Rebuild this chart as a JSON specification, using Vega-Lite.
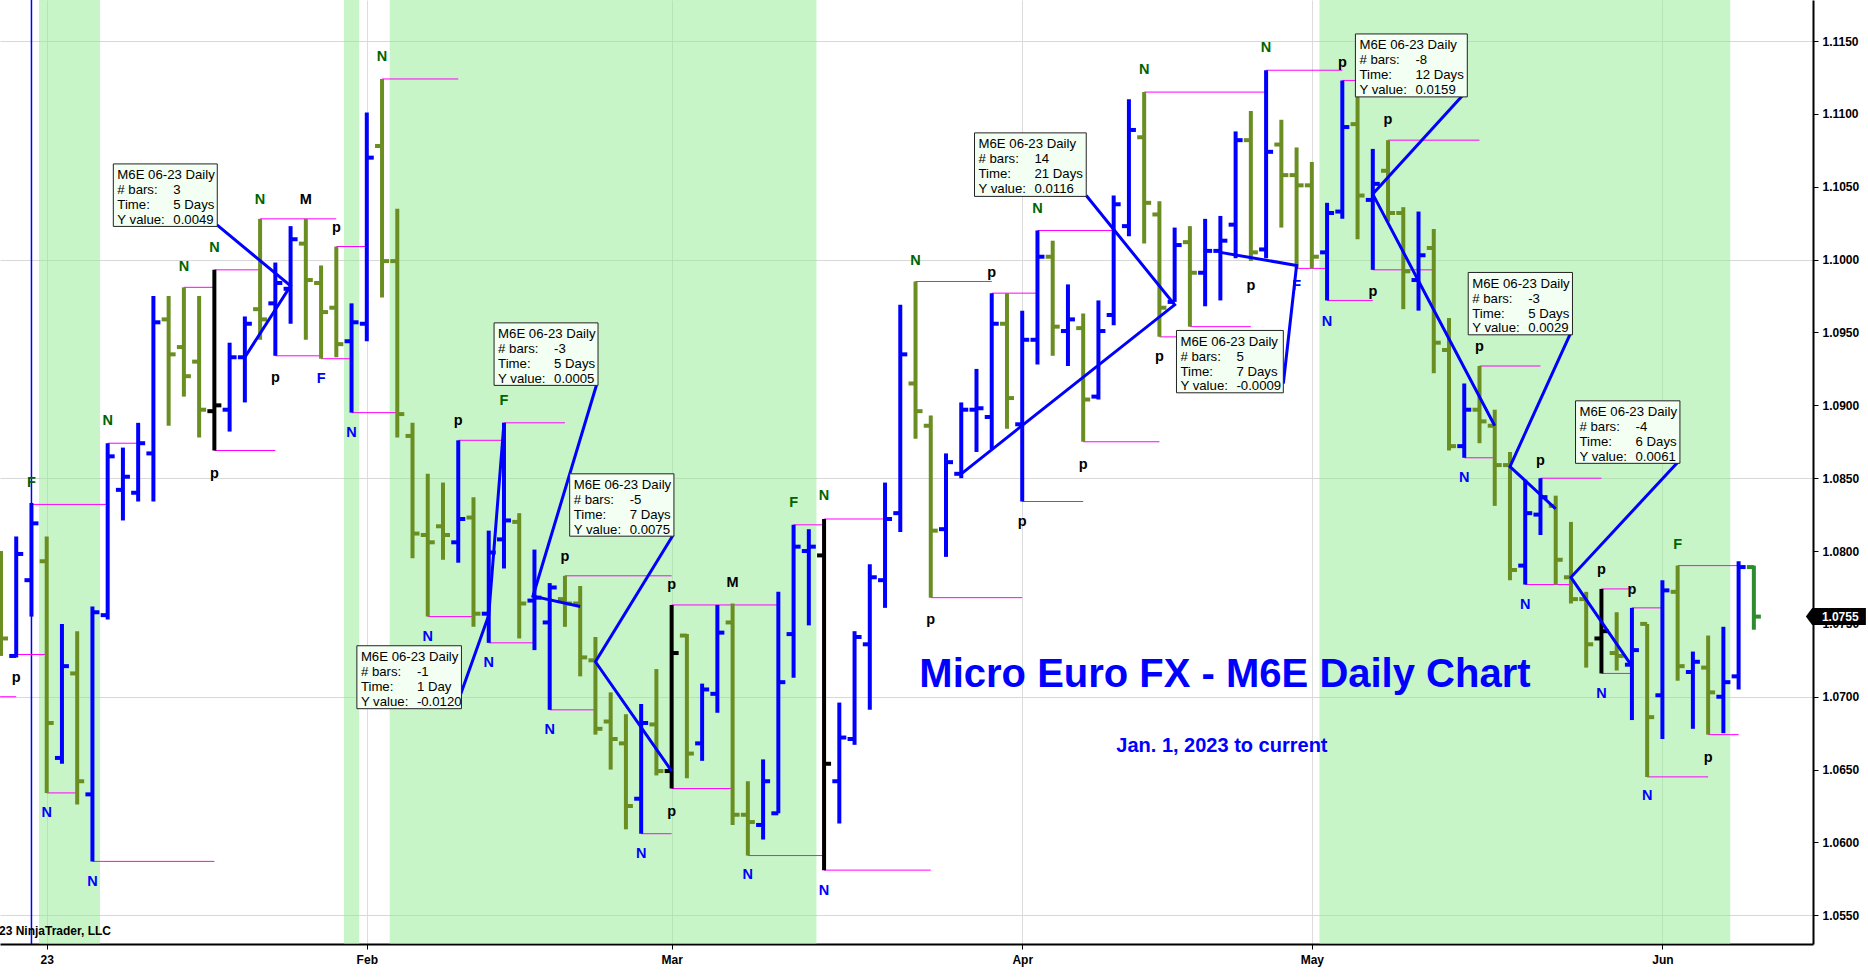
{
  "$schema": "https://vega.github.io/schema/vega-lite/v6.json",
  "width": 1813,
  "height": 944,
  "autosize": {"type": "none"},
  "padding": {"left": 0, "top": 0, "right": 55, "bottom": 33},
  "background": "white",
  "config": {
    "view": {"stroke": null},
    "font": "Liberation Sans",
    "text": {"font": "Liberation Sans"}
  },
  "resolve": {"scale": {"color": "independent"}},
  "datasets": {
    "bars": [
      {"i": -3, "o": 1.0790, "h": 1.0800, "l": 1.0728, "c": 1.0740, "k": "dn"},
      {"i": -2, "o": 1.0728, "h": 1.0810, "l": 1.0727, "c": 1.0798, "k": "up"},
      {"i": -1, "o": 1.0780, "h": 1.0833, "l": 1.0755, "c": 1.0819, "k": "up"},
      {"i": 0, "o": 1.0793, "h": 1.0810, "l": 1.0634, "c": 1.0682, "k": "dn"},
      {"i": 1, "o": 1.0658, "h": 1.0750, "l": 1.0654, "c": 1.0721, "k": "up"},
      {"i": 2, "o": 1.0716, "h": 1.0745, "l": 1.0626, "c": 1.0642, "k": "dn"},
      {"i": 3, "o": 1.0633, "h": 1.0762, "l": 1.0587, "c": 1.0758, "k": "up"},
      {"i": 4, "o": 1.0756, "h": 1.0874, "l": 1.0753, "c": 1.0865, "k": "up"},
      {"i": 5, "o": 1.0842, "h": 1.0871, "l": 1.0821, "c": 1.0851, "k": "up"},
      {"i": 6, "o": 1.0840, "h": 1.0888, "l": 1.0834, "c": 1.0874, "k": "up"},
      {"i": 7, "o": 1.0867, "h": 1.0975, "l": 1.0834, "c": 1.0957, "k": "up"},
      {"i": 8, "o": 1.0959, "h": 1.0975, "l": 1.0886, "c": 1.0935, "k": "dn"},
      {"i": 9, "o": 1.0940, "h": 1.0981, "l": 1.0906, "c": 1.0920, "k": "dn"},
      {"i": 10, "o": 1.0930, "h": 1.0975, "l": 1.0878, "c": 1.0897, "k": "dn"},
      {"i": 11, "o": 1.0896, "h": 1.0993, "l": 1.0869, "c": 1.0900, "k": "bk"},
      {"i": 12, "o": 1.0897, "h": 1.0943, "l": 1.0882, "c": 1.0933, "k": "up"},
      {"i": 13, "o": 1.0933, "h": 1.0961, "l": 1.0902, "c": 1.0956, "k": "up"},
      {"i": 14, "o": 1.0966, "h": 1.1028, "l": 1.0945, "c": 1.0959, "k": "dn"},
      {"i": 15, "o": 1.0970, "h": 1.0998, "l": 1.0934, "c": 1.0984, "k": "up"},
      {"i": 16, "o": 1.0980, "h": 1.1023, "l": 1.0956, "c": 1.1014, "k": "up"},
      {"i": 17, "o": 1.1011, "h": 1.1028, "l": 1.0945, "c": 1.0986, "k": "dn"},
      {"i": 18, "o": 1.0984, "h": 1.0996, "l": 1.0932, "c": 1.0964, "k": "dn"},
      {"i": 19, "o": 1.0967, "h": 1.1009, "l": 1.0933, "c": 1.0942, "k": "dn"},
      {"i": 20, "o": 1.0944, "h": 1.0970, "l": 1.0895, "c": 1.0957, "k": "up"},
      {"i": 21, "o": 1.0956, "h": 1.1101, "l": 1.0944, "c": 1.1070, "k": "up"},
      {"i": 22, "o": 1.1078, "h": 1.1124, "l": 1.0974, "c": 1.0999, "k": "dn"},
      {"i": 23, "o": 1.0999, "h": 1.1035, "l": 1.0878, "c": 1.0894, "k": "dn"},
      {"i": 24, "o": 1.0879, "h": 1.0888, "l": 1.0795, "c": 1.0812, "k": "dn"},
      {"i": 25, "o": 1.0811, "h": 1.0853, "l": 1.0755, "c": 1.0806, "k": "dn"},
      {"i": 26, "o": 1.0817, "h": 1.0847, "l": 1.0794, "c": 1.0811, "k": "dn"},
      {"i": 27, "o": 1.0806, "h": 1.0876, "l": 1.0792, "c": 1.0822, "k": "up"},
      {"i": 28, "o": 1.0823, "h": 1.0837, "l": 1.0748, "c": 1.0757, "k": "dn"},
      {"i": 29, "o": 1.0757, "h": 1.0814, "l": 1.0737, "c": 1.0799, "k": "up"},
      {"i": 30, "o": 1.0808, "h": 1.0888, "l": 1.0788, "c": 1.0821, "k": "up"},
      {"i": 31, "o": 1.0820, "h": 1.0826, "l": 1.0740, "c": 1.0764, "k": "dn"},
      {"i": 32, "o": 1.0766, "h": 1.0801, "l": 1.0732, "c": 1.0768, "k": "up"},
      {"i": 33, "o": 1.0751, "h": 1.0778, "l": 1.0691, "c": 1.0775, "k": "up"},
      {"i": 34, "o": 1.0767, "h": 1.0783, "l": 1.0748, "c": 1.0764, "k": "dn"},
      {"i": 35, "o": 1.0764, "h": 1.0776, "l": 1.0714, "c": 1.0727, "k": "dn"},
      {"i": 36, "o": 1.0725, "h": 1.0741, "l": 1.0674, "c": 1.0678, "k": "dn"},
      {"i": 37, "o": 1.0683, "h": 1.0703, "l": 1.0650, "c": 1.0671, "k": "dn"},
      {"i": 38, "o": 1.0668, "h": 1.0688, "l": 1.0609, "c": 1.0625, "k": "dn"},
      {"i": 39, "o": 1.0630, "h": 1.0695, "l": 1.0606, "c": 1.0682, "k": "up"},
      {"i": 40, "o": 1.0681, "h": 1.0719, "l": 1.0646, "c": 1.0649, "k": "dn"},
      {"i": 41, "o": 1.0649, "h": 1.0763, "l": 1.0637, "c": 1.0730, "k": "bk"},
      {"i": 42, "o": 1.0742, "h": 1.0743, "l": 1.0644, "c": 1.0661, "k": "dn"},
      {"i": 43, "o": 1.0668, "h": 1.0709, "l": 1.0656, "c": 1.0705, "k": "up"},
      {"i": 44, "o": 1.0702, "h": 1.0763, "l": 1.0689, "c": 1.0744, "k": "up"},
      {"i": 45, "o": 1.0751, "h": 1.0764, "l": 1.0612, "c": 1.0619, "k": "dn"},
      {"i": 46, "o": 1.0619, "h": 1.0642, "l": 1.0591, "c": 1.0614, "k": "dn"},
      {"i": 47, "o": 1.0612, "h": 1.0657, "l": 1.0602, "c": 1.0642, "k": "up"},
      {"i": 48, "o": 1.0620, "h": 1.0772, "l": 1.0620, "c": 1.0710, "k": "up"},
      {"i": 49, "o": 1.0743, "h": 1.0818, "l": 1.0713, "c": 1.0803, "k": "up"},
      {"i": 50, "o": 1.0800, "h": 1.0815, "l": 1.0749, "c": 1.0803, "k": "up"},
      {"i": 51, "o": 1.0797, "h": 1.0822, "l": 1.0581, "c": 1.0654, "k": "bk"},
      {"i": 52, "o": 1.0642, "h": 1.0696, "l": 1.0613, "c": 1.0672, "k": "up"},
      {"i": 53, "o": 1.0671, "h": 1.0745, "l": 1.0667, "c": 1.0741, "k": "up"},
      {"i": 54, "o": 1.0736, "h": 1.0791, "l": 1.0691, "c": 1.0782, "k": "up"},
      {"i": 55, "o": 1.0780, "h": 1.0847, "l": 1.0761, "c": 1.0822, "k": "up"},
      {"i": 56, "o": 1.0826, "h": 1.0969, "l": 1.0813, "c": 1.0935, "k": "up"},
      {"i": 57, "o": 1.0915, "h": 1.0985, "l": 1.0877, "c": 1.0896, "k": "dn"},
      {"i": 58, "o": 1.0886, "h": 1.0893, "l": 1.0768, "c": 1.0814, "k": "dn"},
      {"i": 59, "o": 1.0815, "h": 1.0867, "l": 1.0796, "c": 1.0861, "k": "up"},
      {"i": 60, "o": 1.0853, "h": 1.0902, "l": 1.0850, "c": 1.0897, "k": "up"},
      {"i": 61, "o": 1.0897, "h": 1.0925, "l": 1.0868, "c": 1.0898, "k": "up"},
      {"i": 62, "o": 1.0892, "h": 1.0977, "l": 1.0870, "c": 1.0956, "k": "up"},
      {"i": 63, "o": 1.0956, "h": 1.0977, "l": 1.0884, "c": 1.0905, "k": "dn"},
      {"i": 64, "o": 1.0887, "h": 1.0965, "l": 1.0834, "c": 1.0945, "k": "up"},
      {"i": 65, "o": 1.0945, "h": 1.1020, "l": 1.0928, "c": 1.1002, "k": "up"},
      {"i": 66, "o": 1.1002, "h": 1.1013, "l": 1.0934, "c": 1.0954, "k": "dn"},
      {"i": 67, "o": 1.0951, "h": 1.0983, "l": 1.0927, "c": 1.0959, "k": "up"},
      {"i": 68, "o": 1.0953, "h": 1.0963, "l": 1.0875, "c": 1.0904, "k": "dn"},
      {"i": 69, "o": 1.0906, "h": 1.0972, "l": 1.0904, "c": 1.0951, "k": "up"},
      {"i": 70, "o": 1.0962, "h": 1.1044, "l": 1.0955, "c": 1.1038, "k": "up"},
      {"i": 71, "o": 1.1023, "h": 1.1110, "l": 1.1016, "c": 1.1089, "k": "up"},
      {"i": 72, "o": 1.1084, "h": 1.1115, "l": 1.1011, "c": 1.1039, "k": "dn"},
      {"i": 73, "o": 1.1031, "h": 1.1040, "l": 1.0947, "c": 1.0967, "k": "dn"},
      {"i": 74, "o": 1.0971, "h": 1.1022, "l": 1.0971, "c": 1.1010, "k": "up"},
      {"i": 75, "o": 1.1012, "h": 1.1023, "l": 1.0954, "c": 1.0991, "k": "dn"},
      {"i": 76, "o": 1.0991, "h": 1.1028, "l": 1.0968, "c": 1.1006, "k": "up"},
      {"i": 77, "o": 1.1006, "h": 1.1030, "l": 1.0972, "c": 1.1013, "k": "up"},
      {"i": 78, "o": 1.1024, "h": 1.1088, "l": 1.1001, "c": 1.1082, "k": "up"},
      {"i": 79, "o": 1.1082, "h": 1.1102, "l": 1.0999, "c": 1.1005, "k": "dn"},
      {"i": 80, "o": 1.1007, "h": 1.1130, "l": 1.1001, "c": 1.1074, "k": "up"},
      {"i": 81, "o": 1.1079, "h": 1.1096, "l": 1.1022, "c": 1.1058, "k": "dn"},
      {"i": 82, "o": 1.1058, "h": 1.1077, "l": 1.0994, "c": 1.1051, "k": "dn"},
      {"i": 83, "o": 1.1051, "h": 1.1067, "l": 1.0994, "c": 1.1002, "k": "dn"},
      {"i": 84, "o": 1.1005, "h": 1.1039, "l": 1.0972, "c": 1.1032, "k": "up"},
      {"i": 85, "o": 1.1033, "h": 1.1123, "l": 1.1028, "c": 1.1091, "k": "up"},
      {"i": 86, "o": 1.1093, "h": 1.1114, "l": 1.1014, "c": 1.1044, "k": "dn"},
      {"i": 87, "o": 1.1041, "h": 1.1076, "l": 1.0993, "c": 1.1052, "k": "up"},
      {"i": 88, "o": 1.1061, "h": 1.1082, "l": 1.1026, "c": 1.1032, "k": "dn"},
      {"i": 89, "o": 1.1032, "h": 1.1036, "l": 1.0966, "c": 1.0992, "k": "dn"},
      {"i": 90, "o": 1.0986, "h": 1.1033, "l": 1.0965, "c": 1.1003, "k": "up"},
      {"i": 91, "o": 1.1008, "h": 1.1021, "l": 1.0922, "c": 1.0943, "k": "dn"},
      {"i": 92, "o": 1.0938, "h": 1.0960, "l": 1.0869, "c": 1.0872, "k": "dn"},
      {"i": 93, "o": 1.0872, "h": 1.0915, "l": 1.0864, "c": 1.0897, "k": "up"},
      {"i": 94, "o": 1.0897, "h": 1.0927, "l": 1.0874, "c": 1.0889, "k": "dn"},
      {"i": 95, "o": 1.0886, "h": 1.0897, "l": 1.0831, "c": 1.0859, "k": "dn"},
      {"i": 96, "o": 1.0859, "h": 1.0868, "l": 1.0780, "c": 1.0787, "k": "dn"},
      {"i": 97, "o": 1.0790, "h": 1.0849, "l": 1.0777, "c": 1.0826, "k": "up"},
      {"i": 98, "o": 1.0825, "h": 1.0850, "l": 1.0811, "c": 1.0837, "k": "up"},
      {"i": 99, "o": 1.0831, "h": 1.0838, "l": 1.0777, "c": 1.0794, "k": "dn"},
      {"i": 100, "o": 1.0782, "h": 1.0820, "l": 1.0764, "c": 1.0767, "k": "dn"},
      {"i": 101, "o": 1.0767, "h": 1.0772, "l": 1.0720, "c": 1.0736, "k": "dn"},
      {"i": 102, "o": 1.0740, "h": 1.0774, "l": 1.0716, "c": 1.0745, "k": "bk"},
      {"i": 103, "o": 1.0730, "h": 1.0758, "l": 1.0718, "c": 1.0728, "k": "dn"},
      {"i": 104, "o": 1.0722, "h": 1.0761, "l": 1.0684, "c": 1.0732, "k": "up"},
      {"i": 105, "o": 1.0750, "h": 1.0750, "l": 1.0645, "c": 1.0686, "k": "dn"},
      {"i": 106, "o": 1.0701, "h": 1.0780, "l": 1.0671, "c": 1.0773, "k": "up"},
      {"i": 107, "o": 1.0772, "h": 1.0790, "l": 1.0711, "c": 1.0721, "k": "dn"},
      {"i": 108, "o": 1.0717, "h": 1.0731, "l": 1.0678, "c": 1.0724, "k": "up"},
      {"i": 109, "o": 1.0720, "h": 1.0742, "l": 1.0674, "c": 1.0703, "k": "dn"},
      {"i": 110, "o": 1.0700, "h": 1.0748, "l": 1.0675, "c": 1.0710, "k": "up"},
      {"i": 111, "o": 1.0714, "h": 1.0793, "l": 1.0705, "c": 1.0789, "k": "up"},
      {"i": 112, "o": 1.0789, "h": 1.0790, "l": 1.0746, "c": 1.0755, "k": "lt"}
    ],
    "bands": [
      {"a": -0.5, "b": 3.5},
      {"a": 19.5, "b": 20.5},
      {"a": 22.5, "b": 50.5},
      {"a": 83.5, "b": 110.45}
    ],
    "levels": [
      {"a": -3.06, "b": -2, "p": 1.0700},
      {"a": -1, "b": 4, "p": 1.0832},
      {"a": -2, "b": 0, "p": 1.0729},
      {"a": 0, "b": 2, "p": 1.0634},
      {"a": 3, "b": 11, "p": 1.0587},
      {"a": 4, "b": 6, "p": 1.0874},
      {"a": 9, "b": 11, "p": 1.0981},
      {"a": 11, "b": 14, "p": 1.0993},
      {"a": 11, "b": 15, "p": 1.0869},
      {"a": 14, "b": 19, "p": 1.1028},
      {"a": 15, "b": 18, "p": 1.0934},
      {"a": 18, "b": 20, "p": 1.0932},
      {"a": 19, "b": 21, "p": 1.1009},
      {"a": 20, "b": 23, "p": 1.0895},
      {"a": 22, "b": 27, "p": 1.1124},
      {"a": 27, "b": 30, "p": 1.0876},
      {"a": 25, "b": 28, "p": 1.0755},
      {"a": 30, "b": 34, "p": 1.0888},
      {"a": 29, "b": 32, "p": 1.0737},
      {"a": 34, "b": 41, "p": 1.0783},
      {"a": 33, "b": 36, "p": 1.0691},
      {"a": 39, "b": 41, "p": 1.0606},
      {"a": 41, "b": 48, "p": 1.0763},
      {"a": 41, "b": 45, "p": 1.0637},
      {"a": 49, "b": 51, "p": 1.0818},
      {"a": 51, "b": 55, "p": 1.0822},
      {"a": 46, "b": 51, "p": 1.0591},
      {"a": 51, "b": 58, "p": 1.0581},
      {"a": 57, "b": 62, "p": 1.0985},
      {"a": 58, "b": 64, "p": 1.0768},
      {"a": 62, "b": 65, "p": 1.0977},
      {"a": 64, "b": 68, "p": 1.0834},
      {"a": 65, "b": 70, "p": 1.1020},
      {"a": 68, "b": 73, "p": 1.0875},
      {"a": 72, "b": 80, "p": 1.1115},
      {"a": 73, "b": 79, "p": 1.0947},
      {"a": 75, "b": 79, "p": 1.0954},
      {"a": 80, "b": 85, "p": 1.1130},
      {"a": 82, "b": 84, "p": 1.0994},
      {"a": 84, "b": 87, "p": 1.0972},
      {"a": 85, "b": 87, "p": 1.1123},
      {"a": 87, "b": 91, "p": 1.0993},
      {"a": 88, "b": 94, "p": 1.1082},
      {"a": 93, "b": 95, "p": 1.0864},
      {"a": 94, "b": 98, "p": 1.0927},
      {"a": 98, "b": 102, "p": 1.0850},
      {"a": 97, "b": 100, "p": 1.0777},
      {"a": 102, "b": 104, "p": 1.0774},
      {"a": 102, "b": 104, "p": 1.0716},
      {"a": 104, "b": 106, "p": 1.0761},
      {"a": 105, "b": 109, "p": 1.0645},
      {"a": 107, "b": 111, "p": 1.0790},
      {"a": 109, "b": 111, "p": 1.0674}
    ],
    "swings": [
      {"i": -1, "p": 1.0847, "t": "F", "k": "g"},
      {"i": -2, "p": 1.0713, "t": "p", "k": "k"},
      {"i": 0, "p": 1.0620, "t": "N", "k": "b"},
      {"i": 3, "p": 1.0573, "t": "N", "k": "b"},
      {"i": 4, "p": 1.0889, "t": "N", "k": "g"},
      {"i": 9, "p": 1.0995, "t": "N", "k": "g"},
      {"i": 11, "p": 1.1008, "t": "N", "k": "g"},
      {"i": 11, "p": 1.0853, "t": "p", "k": "k"},
      {"i": 14, "p": 1.1041, "t": "N", "k": "g"},
      {"i": 17, "p": 1.1041, "t": "M", "k": "k"},
      {"i": 15, "p": 1.0919, "t": "p", "k": "k"},
      {"i": 19, "p": 1.1022, "t": "p", "k": "k"},
      {"i": 18, "p": 1.0918, "t": "F", "k": "b"},
      {"i": 20, "p": 1.0881, "t": "N", "k": "b"},
      {"i": 22, "p": 1.1139, "t": "N", "k": "g"},
      {"i": 27, "p": 1.0889, "t": "p", "k": "k"},
      {"i": 25, "p": 1.0741, "t": "N", "k": "b"},
      {"i": 30, "p": 1.0903, "t": "F", "k": "g"},
      {"i": 29, "p": 1.0723, "t": "N", "k": "b"},
      {"i": 34, "p": 1.0796, "t": "p", "k": "k"},
      {"i": 33, "p": 1.0677, "t": "N", "k": "b"},
      {"i": 41, "p": 1.0777, "t": "p", "k": "k"},
      {"i": 41, "p": 1.0621, "t": "p", "k": "k"},
      {"i": 39, "p": 1.0592, "t": "N", "k": "b"},
      {"i": 45, "p": 1.0778, "t": "M", "k": "k"},
      {"i": 49, "p": 1.0833, "t": "F", "k": "g"},
      {"i": 51, "p": 1.0838, "t": "N", "k": "g"},
      {"i": 46, "p": 1.0578, "t": "N", "k": "b"},
      {"i": 51, "p": 1.0567, "t": "N", "k": "b"},
      {"i": 57, "p": 1.0999, "t": "N", "k": "g"},
      {"i": 58, "p": 1.0753, "t": "p", "k": "k"},
      {"i": 62, "p": 1.0991, "t": "p", "k": "k"},
      {"i": 64, "p": 1.0820, "t": "p", "k": "k"},
      {"i": 65, "p": 1.1035, "t": "N", "k": "g"},
      {"i": 68, "p": 1.0859, "t": "p", "k": "k"},
      {"i": 72, "p": 1.1130, "t": "N", "k": "g"},
      {"i": 73, "p": 1.0933, "t": "p", "k": "k"},
      {"i": 79, "p": 1.0982, "t": "p", "k": "k"},
      {"i": 80, "p": 1.1145, "t": "N", "k": "g"},
      {"i": 82, "p": 1.0982, "t": "F", "k": "b"},
      {"i": 84, "p": 1.0957, "t": "N", "k": "b"},
      {"i": 85, "p": 1.1135, "t": "p", "k": "k"},
      {"i": 88, "p": 1.1096, "t": "p", "k": "k"},
      {"i": 87, "p": 1.0978, "t": "p", "k": "k"},
      {"i": 93, "p": 1.0850, "t": "N", "k": "b"},
      {"i": 94, "p": 1.0940, "t": "p", "k": "k"},
      {"i": 98, "p": 1.0862, "t": "p", "k": "k"},
      {"i": 97, "p": 1.0763, "t": "N", "k": "b"},
      {"i": 102, "p": 1.0787, "t": "p", "k": "k"},
      {"i": 104, "p": 1.0773, "t": "p", "k": "k"},
      {"i": 102, "p": 1.0702, "t": "N", "k": "b"},
      {"i": 105, "p": 1.0632, "t": "N", "k": "b"},
      {"i": 107, "p": 1.0804, "t": "F", "k": "g"},
      {"i": 109, "p": 1.0658, "t": "p", "k": "k"}
    ],
    "rulers": [
      {"r": 1, "s": 0, "i": 13, "p": 1.0933}, {"r": 1, "s": 1, "i": 16, "p": 1.0982}, {"r": 1, "s": 2, "i": 11.15, "p": 1.1024},
      {"r": 2, "s": 0, "i": 30, "p": 1.0888}, {"r": 2, "s": 1, "i": 29, "p": 1.0756}, {"r": 2, "s": 2, "i": 27.1, "p": 1.0700},
      {"r": 3, "s": 0, "i": 35, "p": 1.0762}, {"r": 3, "s": 1, "i": 31.9, "p": 1.0769}, {"r": 3, "s": 2, "i": 36.07, "p": 1.0914},
      {"r": 4, "s": 0, "i": 41, "p": 1.0649}, {"r": 4, "s": 1, "i": 36, "p": 1.0724}, {"r": 4, "s": 2, "i": 41.1, "p": 1.0811},
      {"r": 5, "s": 0, "i": 60, "p": 1.0853}, {"r": 5, "s": 1, "i": 74, "p": 1.0969}, {"r": 5, "s": 2, "i": 68.2, "p": 1.1044},
      {"r": 6, "s": 0, "i": 77, "p": 1.1005}, {"r": 6, "s": 1, "i": 82, "p": 1.0996}, {"r": 6, "s": 2, "i": 81.13, "p": 1.0915},
      {"r": 7, "s": 0, "i": 95, "p": 1.0886}, {"r": 7, "s": 1, "i": 87, "p": 1.1045}, {"r": 7, "s": 2, "i": 93.1, "p": 1.1115},
      {"r": 8, "s": 0, "i": 99, "p": 1.0829}, {"r": 8, "s": 1, "i": 96, "p": 1.0858}, {"r": 8, "s": 2, "i": 100.0, "p": 1.0950},
      {"r": 9, "s": 0, "i": 104, "p": 1.0721}, {"r": 9, "s": 1, "i": 100, "p": 1.0782}, {"r": 9, "s": 2, "i": 107.1, "p": 1.0862}
    ],
    "boxes": [
      {"x0": 4.37, "x1": 11.19, "top": 1.10657, "bot": 1.10228, "val": "\n3\n5 Days\n0.0049"},
      {"x0": 20.35, "x1": 27.21, "top": 1.07350, "bot": 1.06918, "val": "\n-1\n1 Day\n-0.0120"},
      {"x0": 29.35, "x1": 36.17, "top": 1.09566, "bot": 1.09137, "val": "\n-3\n5 Days\n0.0005"},
      {"x0": 34.31, "x1": 41.15, "top": 1.08530, "bot": 1.08102, "val": "\n-5\n7 Days\n0.0075"},
      {"x0": 60.87, "x1": 68.20, "top": 1.10870, "bot": 1.10434, "val": "\n14\n21 Days\n0.0116"},
      {"x0": 74.12, "x1": 81.13, "top": 1.09514, "bot": 1.09086, "val": "\n5\n7 Days\n-0.0009"},
      {"x0": 85.86, "x1": 93.20, "top": 1.11549, "bot": 1.11117, "val": "\n-8\n12 Days\n0.0159"},
      {"x0": 93.26, "x1": 100.1, "top": 1.09912, "bot": 1.09484, "val": "\n-3\n5 Days\n0.0029"},
      {"x0": 100.3, "x1": 107.15, "top": 1.09031, "bot": 1.08602, "val": "\n-4\n6 Days\n0.0061"}
    ]
  },
  "layer": [
    {
      "data": {"name": "levels"},
      "mark": {"type": "rule", "color": "#FF00FF", "strokeWidth": 1, "opacity": 0},
      "encoding": {
        "x": {"field": "a", "type": "quantitative", "scale": {"domain": [-3.064, 115.88]},
          "axis": {"values": [0, 21, 41, 64, 83, 106], "title": null,
            "labelExpr": "datum.value == 0 ? '23' : datum.value == 21 ? 'Feb' : datum.value == 41 ? 'Mar' : datum.value == 64 ? 'Apr' : datum.value == 83 ? 'May' : 'Jun'",
            "grid": true, "gridColor": "#DCDCDC", "tickSize": 5, "tickColor": "#000000",
            "domainColor": "#000000", "domainWidth": 2, "labelColor": "#000000",
            "labelFontWeight": "bold", "labelFontSize": 12, "labelPadding": 5, "labelFlush": false}},
        "x2": {"field": "b"},
        "y": {"field": "p", "type": "quantitative", "scale": {"domain": [1.05303, 1.11782], "zero": false, "nice": false},
          "axis": {"orient": "right", "title": null, "format": ".4f",
            "values": [1.055, 1.06, 1.065, 1.07, 1.075, 1.08, 1.085, 1.09, 1.095, 1.1, 1.105, 1.11, 1.115],
            "grid": true, "gridColor": "#D8D8D8",
            "gridOpacity": {"condition": {"test": "round(datum.value * 2000) % 30 == 10", "value": 1}, "value": 0},
            "tickSize": 5, "tickColor": "#000000", "domainColor": "#000000", "domainWidth": 2,
            "labelColor": "#000000", "labelFontWeight": "bold", "labelFontSize": 12, "labelPadding": 4}}
      }
    },
    {
      "data": {"name": "bands"},
      "mark": {"type": "rect", "color": "#91EB91", "opacity": 0.5},
      "encoding": {
        "x": {"field": "a", "type": "quantitative", "scale": {"domain": [-3.064, 115.88]}},
        "x2": {"field": "b"}
      }
    },
    {
      "data": {"values": [{"i": -1}]},
      "mark": {"type": "rule", "color": "#0000FF", "strokeWidth": 1.5},
      "encoding": {"x": {"field": "i", "type": "quantitative", "scale": {"domain": [-3.064, 115.88]}}}
    },
    {
      "data": {"name": "levels"},
      "mark": {"type": "rule", "color": "#FF00FF", "strokeWidth": 1},
      "encoding": {
        "x": {"field": "a", "type": "quantitative", "scale": {"domain": [-3.064, 115.88]}},
        "x2": {"field": "b"},
        "y": {"field": "p", "type": "quantitative", "scale": {"domain": [1.05303, 1.11782], "zero": false, "nice": false}}
      }
    },
    {
      "data": {"name": "bars"},
      "encoding": {
        "x": {"field": "i", "type": "quantitative", "scale": {"domain": [-3.064, 115.88]}},
        "color": {"field": "k", "type": "nominal", "legend": null,
          "scale": {"domain": ["up", "dn", "bk", "lt"], "range": ["#0000FF", "#6B8E23", "#000000", "#2E8B2E"]}}
      },
      "layer": [
        {
          "mark": {"type": "rule", "strokeWidth": 4},
          "encoding": {
            "y": {"field": "l", "type": "quantitative", "scale": {"domain": [1.05303, 1.11782], "zero": false, "nice": false}},
            "y2": {"field": "h"}
          }
        },
        {
          "mark": {"type": "rule", "strokeWidth": 4, "xOffset": -7},
          "encoding": {
            "x2": {"field": "i"},
            "y": {"field": "o", "type": "quantitative", "scale": {"domain": [1.05303, 1.11782], "zero": false, "nice": false}}
          }
        },
        {
          "mark": {"type": "rule", "strokeWidth": 4, "x2Offset": 7},
          "encoding": {
            "x2": {"field": "i"},
            "y": {"field": "c", "type": "quantitative", "scale": {"domain": [1.05303, 1.11782], "zero": false, "nice": false}}
          }
        }
      ]
    },
    {
      "data": {"name": "rulers"},
      "mark": {"type": "line", "color": "#0000FF", "strokeWidth": 3},
      "encoding": {
        "x": {"field": "i", "type": "quantitative", "scale": {"domain": [-3.064, 115.88]}},
        "y": {"field": "p", "type": "quantitative", "scale": {"domain": [1.05303, 1.11782], "zero": false, "nice": false}},
        "detail": {"field": "r"},
        "order": {"field": "s"}
      }
    },
    {
      "data": {"name": "swings"},
      "mark": {"type": "text", "fontSize": 14.5, "fontWeight": "bold", "baseline": "middle", "align": "center"},
      "encoding": {
        "x": {"field": "i", "type": "quantitative", "scale": {"domain": [-3.064, 115.88]}},
        "y": {"field": "p", "type": "quantitative", "scale": {"domain": [1.05303, 1.11782], "zero": false, "nice": false}},
        "text": {"field": "t"},
        "color": {"field": "k", "type": "nominal", "legend": null,
          "scale": {"domain": ["g", "b", "k"], "range": ["#006400", "#0000FF", "#000000"]}}
      }
    },
    {
      "data": {"name": "boxes"},
      "encoding": {
        "x": {"field": "x0", "type": "quantitative", "scale": {"domain": [-3.064, 115.88]}},
        "y": {"field": "top", "type": "quantitative", "scale": {"domain": [1.05303, 1.11782], "zero": false, "nice": false}}
      },
      "layer": [
        {
          "mark": {"type": "rect", "fill": "#F2FFF2", "stroke": "#222222", "strokeWidth": 1},
          "encoding": {"x2": {"field": "x1"}, "y2": {"field": "bot"}}
        },
        {
          "mark": {"type": "text", "align": "left", "baseline": "alphabetic", "dx": 4, "dy": 15.3,
            "fontSize": 13.2, "lineHeight": 14.9, "lineBreak": "\n", "color": "#000000",
            "text": "M6E 06-23 Daily\n# bars:\nTime:\nY value:"}
        },
        {
          "mark": {"type": "text", "align": "left", "baseline": "alphabetic", "dx": 60, "dy": 15.3,
            "fontSize": 13.2, "lineHeight": 14.9, "lineBreak": "\n", "color": "#000000"},
          "encoding": {"text": {"field": "val"}}
        }
      ]
    },
    {
      "data": {"values": [{"i": 77.3, "p": 1.0707}]},
      "mark": {"type": "text", "text": "Micro Euro FX - M6E Daily Chart", "fontSize": 40, "fontWeight": "bold",
        "color": "#0000FF", "align": "center", "baseline": "alphabetic"},
      "encoding": {
        "x": {"field": "i", "type": "quantitative", "scale": {"domain": [-3.064, 115.88]}},
        "y": {"field": "p", "type": "quantitative", "scale": {"domain": [1.05303, 1.11782], "zero": false, "nice": false}}
      }
    },
    {
      "data": {"values": [{"i": 77.1, "p": 1.0662}]},
      "mark": {"type": "text", "text": "Jan. 1, 2023 to current", "fontSize": 20, "fontWeight": "bold",
        "color": "#0000FF", "align": "center", "baseline": "alphabetic"},
      "encoding": {
        "x": {"field": "i", "type": "quantitative", "scale": {"domain": [-3.064, 115.88]}},
        "y": {"field": "p", "type": "quantitative", "scale": {"domain": [1.05303, 1.11782], "zero": false, "nice": false}}
      }
    },
    {
      "data": {"values": [{"i": 4.22, "p": 1.05363}]},
      "mark": {"type": "text", "text": "© 2023 NinjaTrader, LLC", "fontSize": 12, "fontWeight": "bold",
        "color": "#000000", "align": "right", "baseline": "alphabetic", "clip": true},
      "encoding": {
        "x": {"field": "i", "type": "quantitative", "scale": {"domain": [-3.064, 115.88]}},
        "y": {"field": "p", "type": "quantitative", "scale": {"domain": [1.05303, 1.11782], "zero": false, "nice": false}}
      }
    },
    {
      "data": {"values": [{"i": 117.38, "p": 1.0755}]},
      "mark": {"type": "point", "filled": true, "color": "#000000", "opacity": 1, "size": 3600,
        "shape": "M -1 0 L -0.79 -0.283 L 1 -0.283 L 1 0.283 L -0.79 0.283 Z"},
      "encoding": {
        "x": {"field": "i", "type": "quantitative", "scale": {"domain": [-3.064, 115.88]}},
        "y": {"field": "p", "type": "quantitative", "scale": {"domain": [1.05303, 1.11782], "zero": false, "nice": false}}
      }
    },
    {
      "data": {"values": [{"i": 117.67, "p": 1.0755}]},
      "mark": {"type": "text", "text": "1.0755", "fontSize": 12, "fontWeight": "bold", "color": "#FFFFFF",
        "align": "center", "baseline": "middle"},
      "encoding": {
        "x": {"field": "i", "type": "quantitative", "scale": {"domain": [-3.064, 115.88]}},
        "y": {"field": "p", "type": "quantitative", "scale": {"domain": [1.05303, 1.11782], "zero": false, "nice": false}}
      }
    }
  ]
}
